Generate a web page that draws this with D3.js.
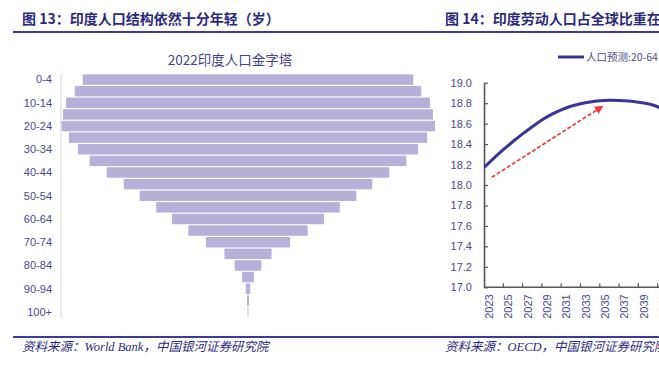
<!DOCTYPE html>
<html>
<head>
<meta charset="utf-8">
<script src="https://cdn.jsdelivr.net/npm/d3@7"></script>
<style>
  html, body { margin: 0; padding: 0; background: #fff; }
  svg { display: block; }
</style>
</head>
<body>
<div id="chart"></div>
<script>
"use strict";

// pyramid: age groups and population (millions)
const ageGroups = ["0-4","5-9","10-14","15-19","20-24","25-29","30-34","35-39","40-44","45-49",
  "50-54","55-59","60-64","65-69","70-74","75-79","80-84","85-89","90-94","95-99","100+"];
const population = [114.9,120.4,126.5,128.6,130.0,124.5,118.3,110.1,98.2,86.4,
  75.3,63.8,52.9,41.5,29.2,16.4,9.3,4.2,1.6,0.7,0.3];

// labour force share line
const years = d3.range(2023, 2044);
const laborShare = [18.17,18.26,18.345,18.425,18.50,18.57,18.635,18.69,18.735,18.77,
  18.795,18.812,18.823,18.828,18.826,18.82,18.81,18.795,18.765,18.72,18.67];
const yTicks = [17.0,17.2,17.4,17.6,17.8,18.0,18.2,18.4,18.6,18.8,19.0];

const W = 659, H = 366;
const navy = "#2d2a7e";
const rule = "#3d3994";
const labelColor = "#4a4791";

const svg = d3.select("#chart").append("svg")
  .attr("width", W).attr("height", H);

// header / footer
svg.append("text").attr("x", 22).attr("y", 24)
  .attr("font-family", "'Noto Sans CJK SC', sans-serif")
  .attr("font-weight", "bold").attr("font-size", 14).attr("fill", navy)
  .text("图 13：印度人口结构依然十分年轻（岁）");
svg.append("text").attr("x", 445).attr("y", 24)
  .attr("font-family", "'Noto Sans CJK SC', sans-serif")
  .attr("font-weight", "bold").attr("font-size", 14).attr("fill", navy)
  .text("图 14：印度劳动人口占全球比重在未来持续提升");
svg.append("line").attr("x1", 13).attr("x2", W).attr("y1", 32).attr("y2", 32)
  .attr("stroke", rule).attr("stroke-width", 2.2);
svg.append("line").attr("x1", 13).attr("x2", W).attr("y1", 337).attr("y2", 337)
  .attr("stroke", rule).attr("stroke-width", 2.2);
svg.append("text").attr("x", 22).attr("y", 351)
  .attr("font-family", "'Liberation Serif', 'Noto Sans CJK SC', serif")
  .attr("font-style", "italic").attr("font-size", 12.5).attr("fill", navy)
  .text("资料来源：World Bank，中国银河证券研究院");
svg.append("text").attr("x", 445).attr("y", 351)
  .attr("font-family", "'Liberation Serif', 'Noto Sans CJK SC', serif")
  .attr("font-style", "italic").attr("font-size", 12.5).attr("fill", navy)
  .text("资料来源：OECD，中国银河证券研究院");

// ---------- pyramid ----------
const py = d3.scaleBand().domain(ageGroups).range([74, 317.5]).paddingInner(0.1).paddingOuter(0.03);
const px = d3.scaleLinear().domain([-65, 65]).range([61, 435]);

svg.append("text").attr("x", 230).attr("y", 65).attr("text-anchor", "middle")
  .attr("font-family", "'Noto Sans CJK SC', sans-serif")
  .attr("font-size", 13.5).attr("fill", "#45418d")
  .text("2022印度人口金字塔");

svg.append("g").selectAll("rect")
  .data(ageGroups)
  .join("rect")
  .attr("x", (d, i) => px(-population[i] / 2))
  .attr("width", (d, i) => px(population[i] / 2) - px(-population[i] / 2))
  .attr("y", d => py(d))
  .attr("height", py.bandwidth())
  .attr("fill", "#b7b1d9");

svg.append("line").attr("x1", 61).attr("x2", 61).attr("y1", 74).attr("y2", 318)
  .attr("stroke", "#e2e2e2").attr("stroke-width", 1.5);

svg.append("g").selectAll("text")
  .data(ageGroups.filter((d, i) => i % 2 === 0))
  .join("text")
  .attr("x", 52)
  .attr("y", d => py(d) + py.bandwidth() / 2)
  .attr("dy", "0.35em")
  .attr("text-anchor", "end")
  .attr("font-family", "'Liberation Sans', Arial, sans-serif")
  .attr("font-size", 11).attr("fill", labelColor)
  .text(d => d);

// ---------- line chart ----------
const step = 9.65;
const x = d3.scaleBand().domain(years).range([484, 484 + step * years.length]);
const y = d3.scaleLinear().domain([17, 19]).range([287.3, 82.7]);
const xPos = yr => x(years[0]) + (yr - years[0]) * x.step();

const axisColor = "#555";
const gy = svg.append("g").attr("transform", "translate(484,0)")
  .call(d3.axisLeft(y).tickValues(yTicks).tickFormat(d3.format(".1f"))
    .tickSizeInner(-4).tickSizeOuter(0).tickPadding(12));
gy.select(".domain").attr("stroke", axisColor).attr("stroke-width", 1.6);
gy.selectAll(".tick line").attr("stroke", axisColor).attr("stroke-width", 1.2);
gy.selectAll(".tick text")
  .attr("font-family", "'Liberation Sans', Arial, sans-serif")
  .attr("font-size", 11).attr("fill", labelColor);

// x axis: ticks every two categories at band edges, labels at band centres
svg.append("line").attr("x1", 484).attr("x2", W).attr("y1", y(17)).attr("y2", y(17))
  .attr("stroke", axisColor).attr("stroke-width", 1.6);
const labelYears = years.filter((d, i) => i % 2 === 0);
svg.append("g").selectAll("line")
  .data(labelYears.slice(1))
  .join("line")
  .attr("x1", d => x(d)).attr("x2", d => x(d))
  .attr("y1", y(17)).attr("y2", y(17) - 4)
  .attr("stroke", axisColor).attr("stroke-width", 1.2);
svg.append("g").selectAll("text")
  .data(labelYears)
  .join("text")
  .attr("transform", d => `translate(${x(d) + x.bandwidth() / 2 + 0.5},${y(17) + 7}) rotate(-90)`)
  .attr("dy", "0.35em")
  .attr("text-anchor", "end")
  .attr("font-family", "'Liberation Sans', Arial, sans-serif")
  .attr("font-size", 11).attr("fill", labelColor)
  .text(d => d);

svg.append("clipPath").attr("id", "plot")
  .append("rect").attr("x", 484).attr("y", 60).attr("width", 200).attr("height", 240);

svg.append("path")
  .datum(years.map((d, i) => [d, laborShare[i]]))
  .attr("clip-path", "url(#plot)")
  .attr("fill", "none")
  .attr("stroke", "#3a3497")
  .attr("stroke-width", 3)
  .attr("d", d3.line().x(d => x(d[0])).y(d => y(d[1])).curve(d3.curveNatural));

// red dashed trend arrow
svg.append("defs").append("marker")
  .attr("id", "arrow").attr("viewBox", "0 0 10 10")
  .attr("refX", 9).attr("refY", 5)
  .attr("markerWidth", 5).attr("markerHeight", 5)
  .attr("markerUnits", "strokeWidth")
  .attr("orient", "auto")
  .append("path").attr("d", "M0,0L10,5L0,10z").attr("fill", "#f03a3a");
svg.append("line")
  .attr("x1", xPos(2023.8)).attr("y1", y(18.075))
  .attr("x2", xPos(2035.3)).attr("y2", y(18.77))
  .attr("stroke", "#f03a3a").attr("stroke-width", 1.7)
  .attr("stroke-dasharray", "4,2")
  .attr("marker-end", "url(#arrow)");

// legend
svg.append("line").attr("x1", 558).attr("x2", 584).attr("y1", 57).attr("y2", 57)
  .attr("stroke", "#3a3497").attr("stroke-width", 3);
svg.append("text").attr("x", 586).attr("y", 61)
  .attr("font-family", "'Noto Sans CJK SC', sans-serif")
  .attr("font-size", 10.5).attr("fill", "#4f4b8c")
  .text("人口预测:20-64岁劳动人口占比");
</script>
</body>
</html>
